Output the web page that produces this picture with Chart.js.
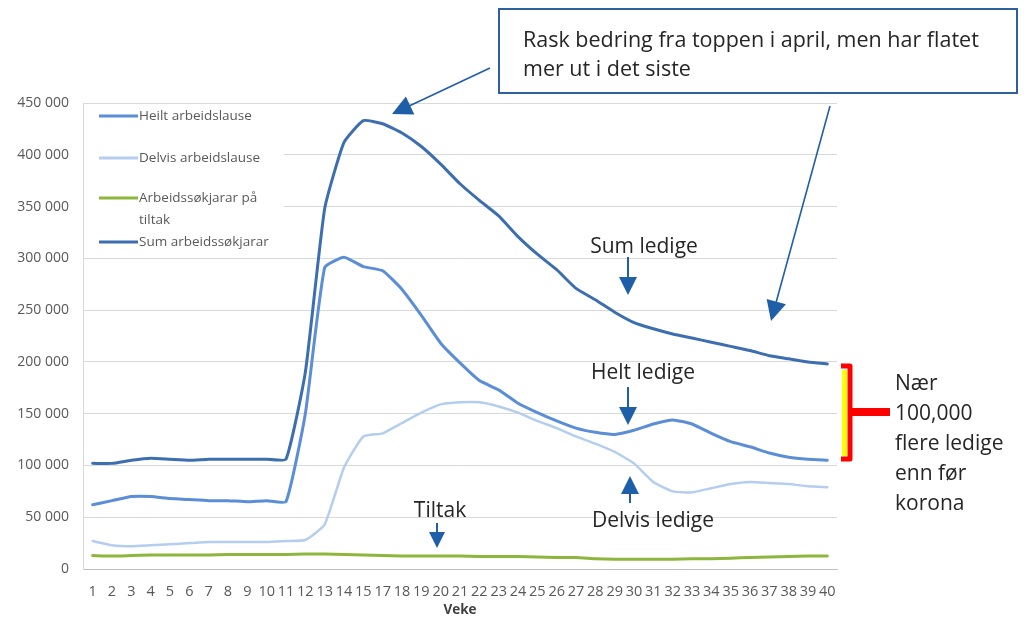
<!DOCTYPE html>
<html>
<head>
<meta charset="utf-8">
<script src="https://cdn.jsdelivr.net/npm/chart.js@4.4.1/dist/chart.umd.min.js"></script>
<style>
  html, body { margin: 0; padding: 0; background: #fff; }
  #wrap { width: 1024px; height: 618px; position: relative; }
</style>
</head>
<body>
<div id="wrap"><canvas id="c" width="1024" height="618"></canvas></div>
<script>
// Veke (veke 16 manglar i kjelda)
const weeks = ['1','2','3','4','5','6','7','8','9','10','11','12','13','14','15',
  '17','18','19','20','21','22','23','24','25','26','27','28','29','30',
  '31','32','33','34','35','36','37','38','39','40'];

const heilt = [62000, 66000, 70000, 70000, 68000, 67000, 66000, 66000, 65000, 66000, 65000,
  150000, 291000, 301000, 292000, 288000, 270000, 245000, 218000, 199000, 182000, 173000,
  160000, 151000, 143000, 136000, 132000, 130000, 134000, 140000, 144000, 140000, 131000,
  123000, 118000, 112000, 108000, 106000, 105000];

const delvis = [27000, 23000, 22000, 23000, 24000, 25000, 26000, 26000, 26000, 26000, 27000,
  28000, 43000, 98000, 128000, 131000, 141000, 151000, 159000, 161000, 161000, 157000,
  151000, 143000, 136000, 128000, 121000, 113000, 102000, 84000, 75000, 74000, 78000,
  82000, 84000, 83000, 82000, 80000, 79000];

const tiltak = [13000, 12500, 13000, 13500, 13500, 13500, 13500, 14000, 14000, 14000, 14000,
  14500, 14500, 14000, 13500, 13000, 12500, 12500, 12500, 12500, 12000, 12000, 12000,
  11500, 11000, 11000, 10000, 9500, 9500, 9500, 9500, 10000, 10000, 10500, 11000, 11500,
  12000, 12500, 12500];

const sum = [102000, 102000, 105000, 107000, 106000, 105000, 106000, 106000, 106000, 106000, 106000,
  190000, 348000, 412000, 433000, 430000, 421000, 408000, 391000, 372000, 356000, 341000,
  321000, 304000, 289000, 271000, 260000, 248000, 238000, 232000, 227000, 223000, 219000,
  215000, 211000, 206000, 203000, 200000, 198000];

const yTicks = [0, 50000, 100000, 150000, 200000, 250000, 300000, 350000, 400000, 450000];

const FONT = "'Open Sans', 'Liberation Sans', sans-serif";
const ARROW = '#1f5fa8';
const TEXT = '#262626';

function fmt(v) {
  return v === 0 ? '0' : (v / 1000) + ' 000';
}

// pil med trekant-hovud
function arrow(ctx, x1, y1, x2, y2, head = 17, w = 1.6) {
  const a = Math.atan2(y2 - y1, x2 - x1);
  ctx.save();
  ctx.strokeStyle = ARROW;
  ctx.fillStyle = ARROW;
  ctx.lineWidth = w;
  ctx.beginPath();
  ctx.moveTo(x1, y1);
  ctx.lineTo(x2 - Math.cos(a) * head * 0.8, y2 - Math.sin(a) * head * 0.8);
  ctx.stroke();
  ctx.beginPath();
  ctx.moveTo(x2, y2);
  ctx.lineTo(x2 - Math.cos(a) * head + Math.sin(a) * head * 0.5, y2 - Math.sin(a) * head - Math.cos(a) * head * 0.5);
  ctx.lineTo(x2 - Math.cos(a) * head - Math.sin(a) * head * 0.5, y2 - Math.sin(a) * head + Math.cos(a) * head * 0.5);
  ctx.closePath();
  ctx.fill();
  ctx.restore();
}

function text(ctx, s, x, y, align = 'left', size = 21) {
  ctx.save();
  ctx.font = size + 'px ' + FONT;
  ctx.fillStyle = TEXT;
  ctx.textAlign = align;
  ctx.textBaseline = 'alphabetic';
  ctx.fillText(s, x, y);
  ctx.restore();
}

// ─── legend inni plottet ───────────────────────────
const legendPlugin = {
  id: 'boxLegend',
  beforeDatasetsDraw(chart) {
    const ctx = chart.ctx;
    const rows = [[116], [158], [198, 220], [242]];
    ctx.save();
    ctx.fillStyle = '#fff';
    ctx.fillRect(84, 104, 200, 150);
    chart.data.datasets.forEach((ds, i) => {
      const ys = rows[i];
      ctx.strokeStyle = ds.borderColor;
      ctx.lineWidth = 3;
      ctx.beginPath();
      ctx.moveTo(99, ys[0]);
      ctx.lineTo(138, ys[0]);
      ctx.stroke();
      ctx.font = '13.5px ' + FONT;
      ctx.fillStyle = '#595959';
      ctx.textBaseline = 'middle';
      ctx.textAlign = 'left';
      const parts = Array.isArray(ds.legendText) ? ds.legendText : [ds.label];
      parts.forEach((p, k) => ctx.fillText(p, 139, ys[k] ?? ys[0]));
    });
    ctx.restore();
  }
};

// ─── kommentarar, piler og klamme ───────────────────
const notesPlugin = {
  id: 'notes',
  afterDraw(chart) {
    const ctx = chart.ctx;

    // boks øvst
    ctx.save();
    ctx.fillStyle = '#fff';
    ctx.fillRect(499, 9, 518, 84);
    ctx.strokeStyle = '#2e5f9f';
    ctx.lineWidth = 2;
    ctx.strokeRect(499, 9, 518, 84);
    ctx.restore();
    text(ctx, 'Rask bedring fra toppen i april, men har flatet', 523, 47, 'left', 21.5);
    text(ctx, 'mer ut i det siste', 523, 76, 'left', 21.5);

    arrow(ctx, 490, 68, 392, 114, 20);
    arrow(ctx, 830, 106, 771, 321, 20);

    text(ctx, 'Sum ledige', 644, 253, 'center');
    arrow(ctx, 628, 257, 628, 295, 18, 2);

    text(ctx, 'Helt ledige', 643, 379, 'center');
    arrow(ctx, 628, 387, 628, 425, 18, 2);

    text(ctx, 'Delvis ledige', 653, 527, 'center');
    arrow(ctx, 630, 503, 630, 476, 18, 2);

    text(ctx, 'Tiltak', 440, 517, 'center');
    arrow(ctx, 437, 523, 437, 548, 16, 2);

    // klamme
    ctx.save();
    ctx.fillStyle = '#ffff00';
    ctx.fillRect(842, 370, 5, 86);
    ctx.strokeStyle = '#ff0000';
    ctx.lineWidth = 5;
    ctx.lineJoin = 'round';
    ctx.beginPath();
    ctx.moveTo(841, 366);
    ctx.lineTo(850, 366);
    ctx.lineTo(850, 459);
    ctx.lineTo(841, 459);
    ctx.stroke();
    ctx.lineWidth = 8;
    ctx.beginPath();
    ctx.moveTo(850, 412);
    ctx.lineTo(890, 412);
    ctx.stroke();
    ctx.restore();

    ['Nær', '100,000', 'flere ledige', 'enn før', 'korona'].forEach((s, i) => {
      text(ctx, s, 895, 390 + i * 30);
    });
  }
};

new Chart(document.getElementById('c'), {
  type: 'line',
  data: {
    labels: weeks,
    datasets: [
      { label: 'Heilt arbeidslause', data: heilt, borderColor: '#5b8ed6', borderWidth: 3 },
      { label: 'Delvis arbeidslause', data: delvis, borderColor: '#b5cdee', borderWidth: 2.5 },
      { label: 'Arbeidssøkjarar på tiltak', legendText: ['Arbeidssøkjarar på', 'tiltak'],
        data: tiltak, borderColor: '#8db63c', borderWidth: 3 },
      { label: 'Sum arbeidssøkjarar', data: sum, borderColor: '#3d6eb0', borderWidth: 3 },
    ],
  },
  options: {
    responsive: false,
    animation: false,
    layout: { padding: { top: 103, right: 187, left: 0, bottom: 0 } },
    elements: {
      point: { radius: 0 },
      line: { tension: 0.15, borderCapStyle: 'round', borderJoinStyle: 'round' },
    },
    scales: {
      x: {
        offset: true,
        grid: { display: false, drawTicks: false },
        border: { display: true, color: '#bfbfbf', width: 1 },
        ticks: {
          autoSkip: false, maxRotation: 0, padding: 14,
          color: '#595959', font: { family: FONT, size: 14.5 },
        },
        title: {
          display: true, text: 'Veke', color: '#404040',
          font: { family: FONT, size: 13.5, weight: 'bold' },
          padding: { top: 0, bottom: 0 },
        },
        afterFit(s) { s.height = 49; },
      },
      y: {
        min: 0, max: 450000,
        afterBuildTicks(s) { s.ticks = yTicks.map(v => ({ value: v })); },
        grid: { color: '#d9d9d9', drawTicks: false },
        border: { display: true, color: '#d9d9d9' },
        ticks: {
          padding: 14, color: '#595959',
          font: { family: FONT, size: 14 },
          callback: v => fmt(v),
        },
        afterFit(s) { s.width = 83; },
      },
    },
    plugins: {
      legend: { display: false },
      tooltip: { enabled: false },
    },
  },
  plugins: [legendPlugin, notesPlugin],
});
</script>
</body>
</html>
